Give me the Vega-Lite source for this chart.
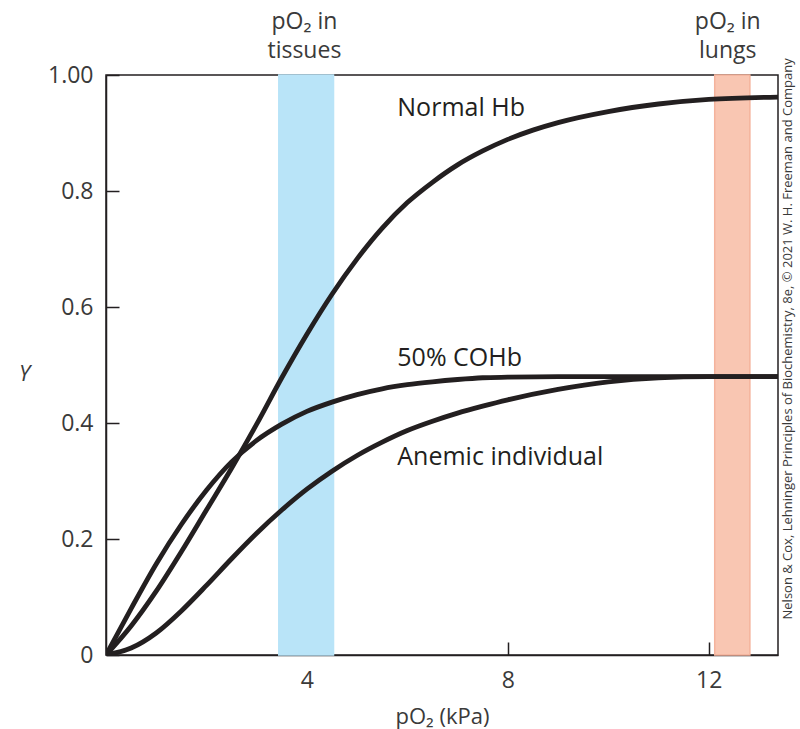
{
  "$schema": "https://vega.github.io/schema/vega-lite/v6.json",
  "width": 672,
  "height": 580,
  "autosize": "none",
  "padding": {"left": 106, "top": 75, "right": 22, "bottom": 74},
  "background": "white",
  "config": {
    "view": {"stroke": "#231f20", "strokeWidth": 1.5},
    "font": "Open Sans",
    "axis": {
      "domainColor": "#231f20", "domainWidth": 1.5,
      "tickColor": "#231f20", "tickWidth": 1.5,
      "labelColor": "#3a3a3a", "labelFont": "Open Sans", "labelFontSize": 23,
      "titleColor": "#3a3a3a", "titleFont": "Open Sans", "titleFontSize": 22, "titleFontWeight": "normal",
      "grid": false
    }
  },
  "datasets": {
    "bands": [
      {"zone": "tissues", "from": 3.44, "to": 4.53},
      {"zone": "lungs", "from": 12.12, "to": 12.82}
    ],
    "curves": [
      {"curve": "Normal Hb", "p": 0, "y": 0},
      {"curve": "Normal Hb", "p": 0.5, "y": 0.05},
      {"curve": "Normal Hb", "p": 1.0, "y": 0.11},
      {"curve": "Normal Hb", "p": 1.5, "y": 0.178},
      {"curve": "Normal Hb", "p": 2.0, "y": 0.25},
      {"curve": "Normal Hb", "p": 2.5, "y": 0.322},
      {"curve": "Normal Hb", "p": 3.0, "y": 0.398},
      {"curve": "Normal Hb", "p": 3.5, "y": 0.478},
      {"curve": "Normal Hb", "p": 4.0, "y": 0.553},
      {"curve": "Normal Hb", "p": 4.5, "y": 0.622},
      {"curve": "Normal Hb", "p": 5.0, "y": 0.683},
      {"curve": "Normal Hb", "p": 5.5, "y": 0.736},
      {"curve": "Normal Hb", "p": 6.0, "y": 0.78},
      {"curve": "Normal Hb", "p": 6.5, "y": 0.815},
      {"curve": "Normal Hb", "p": 7.0, "y": 0.845},
      {"curve": "Normal Hb", "p": 7.5, "y": 0.869},
      {"curve": "Normal Hb", "p": 8.0, "y": 0.889},
      {"curve": "Normal Hb", "p": 8.5, "y": 0.905},
      {"curve": "Normal Hb", "p": 9.0, "y": 0.918},
      {"curve": "Normal Hb", "p": 10.0, "y": 0.937},
      {"curve": "Normal Hb", "p": 11.0, "y": 0.95},
      {"curve": "Normal Hb", "p": 12.0, "y": 0.958},
      {"curve": "Normal Hb", "p": 13.4, "y": 0.962},
      {"curve": "50% COHb", "p": 0, "y": 0},
      {"curve": "50% COHb", "p": 0.5, "y": 0.08},
      {"curve": "50% COHb", "p": 1.0, "y": 0.157},
      {"curve": "50% COHb", "p": 1.5, "y": 0.225},
      {"curve": "50% COHb", "p": 2.0, "y": 0.284},
      {"curve": "50% COHb", "p": 2.5, "y": 0.333},
      {"curve": "50% COHb", "p": 3.0, "y": 0.37},
      {"curve": "50% COHb", "p": 3.5, "y": 0.398},
      {"curve": "50% COHb", "p": 4.0, "y": 0.42},
      {"curve": "50% COHb", "p": 4.5, "y": 0.436},
      {"curve": "50% COHb", "p": 5.0, "y": 0.449},
      {"curve": "50% COHb", "p": 5.5, "y": 0.459},
      {"curve": "50% COHb", "p": 6.0, "y": 0.466},
      {"curve": "50% COHb", "p": 6.5, "y": 0.471},
      {"curve": "50% COHb", "p": 7.0, "y": 0.475},
      {"curve": "50% COHb", "p": 7.5, "y": 0.478},
      {"curve": "50% COHb", "p": 8.0, "y": 0.479},
      {"curve": "50% COHb", "p": 9.0, "y": 0.48},
      {"curve": "50% COHb", "p": 11.0, "y": 0.48},
      {"curve": "50% COHb", "p": 13.4, "y": 0.48},
      {"curve": "Anemic individual", "p": 0, "y": 0},
      {"curve": "Anemic individual", "p": 0.5, "y": 0.012},
      {"curve": "Anemic individual", "p": 1.0, "y": 0.038},
      {"curve": "Anemic individual", "p": 1.5, "y": 0.076},
      {"curve": "Anemic individual", "p": 2.0, "y": 0.12},
      {"curve": "Anemic individual", "p": 2.5, "y": 0.166},
      {"curve": "Anemic individual", "p": 3.0, "y": 0.21},
      {"curve": "Anemic individual", "p": 3.5, "y": 0.25},
      {"curve": "Anemic individual", "p": 4.0, "y": 0.286},
      {"curve": "Anemic individual", "p": 4.5, "y": 0.317},
      {"curve": "Anemic individual", "p": 5.0, "y": 0.344},
      {"curve": "Anemic individual", "p": 5.5, "y": 0.367},
      {"curve": "Anemic individual", "p": 6.0, "y": 0.387},
      {"curve": "Anemic individual", "p": 6.5, "y": 0.403},
      {"curve": "Anemic individual", "p": 7.0, "y": 0.417},
      {"curve": "Anemic individual", "p": 7.5, "y": 0.429},
      {"curve": "Anemic individual", "p": 8.0, "y": 0.44},
      {"curve": "Anemic individual", "p": 9.0, "y": 0.458},
      {"curve": "Anemic individual", "p": 10.0, "y": 0.471},
      {"curve": "Anemic individual", "p": 11.0, "y": 0.478},
      {"curve": "Anemic individual", "p": 12.0, "y": 0.48},
      {"curve": "Anemic individual", "p": 13.4, "y": 0.48}
    ],
    "curveLabels": [
      {"label": "Normal Hb", "p": 5.8, "y": 0.943},
      {"label": "50% COHb", "p": 5.8, "y": 0.512},
      {"label": "Anemic individual", "p": 5.8, "y": 0.341}
    ],
    "bandLabels": [
      {"label": "pO₂ in\ntissues", "p": 3.95, "y": 1.08},
      {"label": "pO₂ in\nlungs", "p": 12.38, "y": 1.08}
    ],
    "credit": [
      {"label": "Nelson & Cox, Lehninger Principles of Biochemistry, 8e, © 2021 W. H. Freeman and Company", "p": 13.57, "y": 0.545}
    ]
  },
  "layer": [
    {
      "data": {"name": "bands"},
      "mark": {"type": "rect", "strokeWidth": 1.5},
      "encoding": {
        "x": {"field": "from", "type": "quantitative", "scale": {"domain": [0, 13.38], "nice": false, "zero": false},
          "axis": {"values": [4, 8, 12], "tickSize": -13, "labelPadding": 27, "title": "pO₂ (kPa)", "titlePadding": 14}},
        "x2": {"field": "to"},
        "y": {"datum": 0, "type": "quantitative", "scale": {"domain": [0, 1], "nice": false},
          "axis": {"values": [0, 0.2, 0.4, 0.6, 0.8, 1], "tickSize": -13, "labelPadding": 26,
            "labelExpr": "datum.value == 1 ? '1.00' : datum.value == 0 ? '0' : format(datum.value, '.1f')",
            "title": "Y", "titleAngle": 0, "titleFontStyle": "italic", "titleY": 298, "titleX": -82, "titleAlign": "center", "titleBaseline": "middle"}},
        "y2": {"datum": 1},
        "fill": {"field": "zone", "type": "nominal", "scale": {"domain": ["tissues", "lungs"], "range": ["#b9e4f8", "#f9c6b2"]}, "legend": null},
        "stroke": {"field": "zone", "type": "nominal", "scale": {"domain": ["tissues", "lungs"], "range": ["#b9e4f8", "#f4b39c"]}, "legend": null}
      }
    },
    {
      "data": {"name": "curves"},
      "mark": {"type": "line", "interpolate": "monotone", "strokeWidth": 4.8, "color": "#231f20", "strokeCap": "round", "clip": true},
      "encoding": {
        "x": {"field": "p", "type": "quantitative"},
        "y": {"field": "y", "type": "quantitative"},
        "detail": {"field": "curve"}
      }
    },
    {
      "data": {"name": "curveLabels"},
      "mark": {"type": "text", "align": "left", "baseline": "middle", "fontSize": 25, "color": "#231f20", "font": "Open Sans"},
      "encoding": {
        "x": {"field": "p", "type": "quantitative"},
        "y": {"field": "y", "type": "quantitative"},
        "text": {"field": "label"}
      }
    },
    {
      "data": {"name": "bandLabels"},
      "mark": {"type": "text", "align": "center", "baseline": "alphabetic", "fontSize": 23, "lineHeight": 29, "color": "#3a3a3a", "font": "Open Sans", "lineBreak": "\n"},
      "encoding": {
        "x": {"field": "p", "type": "quantitative"},
        "y": {"field": "y", "type": "quantitative"},
        "text": {"field": "label"}
      }
    },
    {
      "data": {"name": "credit"},
      "mark": {"type": "text", "align": "center", "baseline": "middle", "angle": 270, "fontSize": 13, "color": "#3a3a3a", "font": "Open Sans"},
      "encoding": {
        "x": {"field": "p", "type": "quantitative"},
        "y": {"field": "y", "type": "quantitative"},
        "text": {"field": "label"}
      }
    }
  ]
}
